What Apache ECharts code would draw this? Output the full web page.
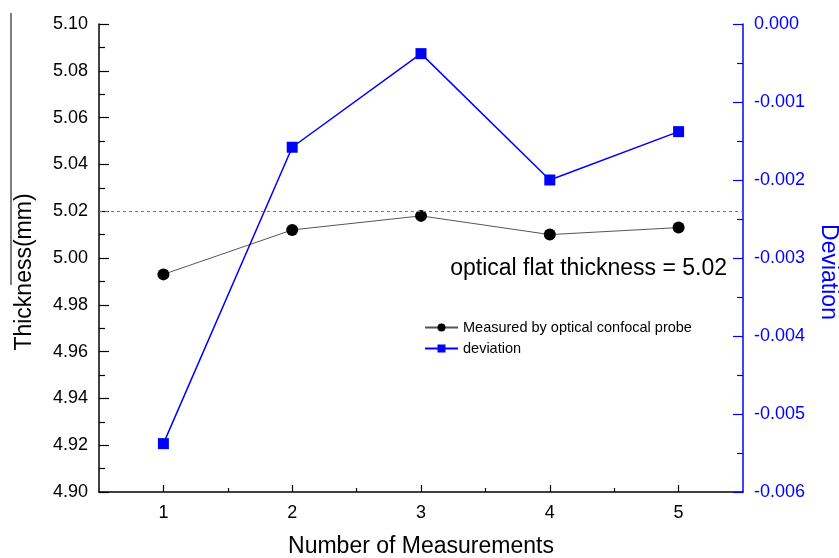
<!DOCTYPE html>
<html>
<head>
<meta charset="utf-8">
<script src="https://cdn.jsdelivr.net/npm/echarts@6/dist/echarts.min.js"></script>
<style>
  html, body { margin: 0; padding: 0; background: #fff; }
  #chart { width: 839px; height: 558px; }
</style>
</head>
<body>
<div id="chart"></div>
<script>
// data
const measurements = [1, 2, 3, 4, 5];
const thickness = [4.993, 5.012, 5.018, 5.010, 5.013];
const deviation = [-0.00538, -0.00158, -0.00038, -0.00200, -0.00138];
const flatThickness = 5.02;
const halfTicks = [1.5, 2.5, 3.5, 4.5];

const font = 'Liberation Sans, Arial, sans-serif';
// same box for the main grid and the one that only carries the half ticks
const box = { left: 99, right: 96, top: 24, bottom: 66, outerBoundsMode: 'none' };

let option = {
    animation: false,
    textStyle: { fontFamily: font },
    grid: [Object.assign({}, box), Object.assign({}, box)],
    legend: {
        orient: 'vertical',
        left: 424,
        top: 320,
        padding: 0,
        itemWidth: 33,
        itemHeight: 10,
        itemGap: 6,
        textStyle: { fontSize: 14.5, color: '#000', fontFamily: font },
        data: ['Measured by optical confocal probe', 'deviation']
    },
    xAxis: [{
        type: 'value',
        gridIndex: 0,
        position: 'bottom',
        min: 0.5,
        max: 5.5,
        interval: 0.5,
        name: 'Number of Measurements',
        nameLocation: 'middle',
        nameGap: 43,
        nameTextStyle: { fontSize: 23, color: '#000', fontFamily: font },
        splitLine: { show: false },
        axisLine: { onZero: false, lineStyle: { color: '#000', width: 1.5 } },
        axisTick: { inside: true, length: 7, customValues: measurements, lineStyle: { color: '#000', width: 1.2 } },
        axisLabel: { customValues: measurements, margin: 12, fontSize: 18, color: '#000', fontFamily: font }
    }, {
        type: 'value',
        gridIndex: 1,
        position: 'bottom',
        min: 0.5,
        max: 5.5,
        interval: 0.5,
        splitLine: { show: false },
        axisLine: { show: false, onZero: false },
        axisTick: { inside: true, length: 4, customValues: halfTicks, lineStyle: { color: '#000', width: 1.2 } },
        axisLabel: { show: false }
    }],
    yAxis: [{
        type: 'value',
        gridIndex: 0,
        position: 'left',
        min: 4.90,
        max: 5.10,
        interval: 0.02,
        name: 'Thickness(mm)',
        nameLocation: 'middle',
        nameGap: 63,
        nameTextStyle: { fontSize: 23, color: '#000', fontFamily: font, padding: [0, 28, 0, 0] },
        splitLine: { show: false },
        axisLine: { show: true, onZero: false, lineStyle: { color: '#000', width: 1.5 } },
        axisTick: { inside: true, length: 10, lineStyle: { color: '#000', width: 1.2 } },
        minorTick: { show: true, splitNumber: 2, length: 6, lineStyle: { color: '#000', width: 1.2 } },
        axisLabel: { margin: 11, fontSize: 18, color: '#000', fontFamily: font, formatter: v => v.toFixed(2) }
    }, {
        type: 'value',
        gridIndex: 0,
        position: 'right',
        min: -0.006,
        max: 0,
        interval: 0.001,
        name: 'Deviation',
        nameLocation: 'middle',
        nameRotate: -90,
        nameGap: 74,
        nameTextStyle: { fontSize: 23, color: '#0000ff', fontFamily: font, padding: [0, 0, 0, 28] },
        splitLine: { show: false },
        axisLine: { show: true, onZero: false, lineStyle: { color: '#0000ff', width: 1.5 } },
        axisTick: { inside: true, length: 10, lineStyle: { color: '#0000ff', width: 1.2 } },
        minorTick: { show: true, splitNumber: 2, length: 6, lineStyle: { color: '#0000ff', width: 1.2 } },
        axisLabel: { margin: 11, fontSize: 18, color: '#0000ff', fontFamily: font, formatter: v => v.toFixed(3) }
    }, {
        type: 'value',
        gridIndex: 1,
        min: 0,
        max: 1,
        show: false
    }],
    series: [{
        name: 'Measured by optical confocal probe',
        type: 'line',
        xAxisIndex: 0,
        yAxisIndex: 0,
        data: measurements.map((m, i) => [m, thickness[i]]),
        symbol: 'circle',
        symbolSize: 12,
        itemStyle: { color: '#000' },
        lineStyle: { color: '#555', width: 1 },
        markLine: {
            silent: true,
            symbol: 'none',
            label: { show: false },
            lineStyle: { color: '#777', type: [3, 3], width: 1 },
            data: [{ yAxis: flatThickness }]
        }
    }, {
        name: 'deviation',
        type: 'line',
        xAxisIndex: 0,
        yAxisIndex: 1,
        data: measurements.map((m, i) => [m, deviation[i]]),
        symbol: 'rect',
        symbolSize: 11,
        itemStyle: { color: '#0000ff' },
        lineStyle: { color: '#0000ff', width: 1.5 }
    }],
    graphic: [{
        type: 'text',
        right: 839 - 727,
        top: 257,
        style: {
            text: 'optical flat thickness = ' + flatThickness.toFixed(2),
            font: '23px ' + font,
            fill: '#000'
        }
    }, {
        type: 'line',
        shape: { x1: 11, y1: 13, x2: 11, y2: 285 },
        style: { stroke: '#555', lineWidth: 1.5 }
    }]
};

var myChart = echarts.init(document.getElementById('chart'));
myChart.setOption(option);
</script>
</body>
</html>
